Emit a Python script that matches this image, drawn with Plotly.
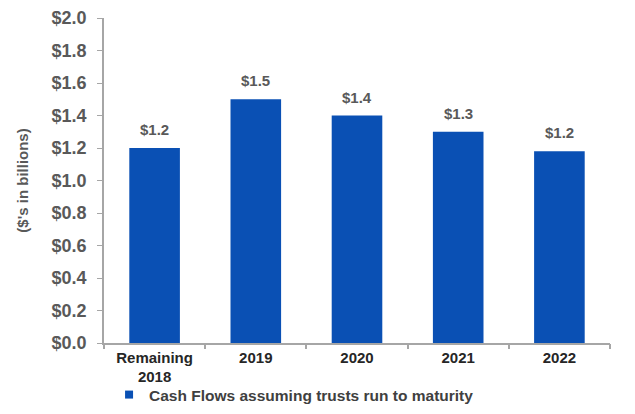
import plotly.graph_objects as go

# Expected cash flows by year ($ billions)
categories = ["Remaining<br>2018", "2019", "2020", "2021", "2022"]
cash_flows = [1.2, 1.5, 1.4, 1.3, 1.18]
y_ticks = [0.0, 0.2, 0.4, 0.6, 0.8, 1.0, 1.2, 1.4, 1.6, 1.8, 2.0]
y_tick_labels = [f"${v:.1f}" for v in y_ticks]
series_name = "Cash Flows assuming trusts run to maturity"

FONT = "Liberation Sans, Arial, sans-serif"
BLUE = "#0A50B4"
GREY_TEXT = "#595959"
AXIS_GREY = "#A6A6A6"

positions = list(range(len(categories)))
boundaries = [p - 0.5 for p in positions] + [positions[-1] + 0.5]

fig = go.Figure()
fig.add_trace(go.Bar(
    x=positions,
    y=cash_flows,
    name=series_name,
    marker=dict(color=BLUE, line=dict(width=0)),
    width=0.5,
    showlegend=False,
))
# Legend entry with a small square swatch
fig.add_trace(go.Scatter(
    x=[None], y=[None], mode="markers", name=f"<b>{series_name}</b>",
    marker=dict(symbol="square", size=8, color=BLUE),
    showlegend=True,
))

# Value labels above each bar
for i, val in enumerate(cash_flows):
    fig.add_annotation(
        x=i, y=val, text=f"<b>${val:.1f}</b>",
        showarrow=False, yanchor="bottom", yshift=8,
        font=dict(family=FONT, size=15, color=GREY_TEXT),
    )

fig.update_layout(
    width=635, height=414,
    margin=dict(l=104, r=25, t=18, b=71, autoexpand=False),
    paper_bgcolor="white", plot_bgcolor="white",
    font=dict(family=FONT),
    legend=dict(
        orientation="h", x=0.01, y=-0.16, xanchor="left", yanchor="middle",
        font=dict(family=FONT, size=15.5, color="#404040"),
        bgcolor="rgba(0,0,0,0)",
    ),
    xaxis=dict(
        range=[-0.5, 4.5],
        tickvals=positions,
        ticktext=[f"<b>{c}</b>" for c in categories],
        showline=True, linecolor=AXIS_GREY, linewidth=1.5,
        ticks="", showgrid=False, zeroline=False,
        tickfont=dict(family=FONT, size=15, color="#262626"),
    ),
    # Overlay axis carrying the tick marks between categories
    xaxis2=dict(
        overlaying="x", matches="x", side="bottom", anchor="y",
        tickvals=boundaries, showticklabels=False,
        ticks="outside", ticklen=5, tickcolor=AXIS_GREY, tickwidth=1.5,
        showline=False, showgrid=False, zeroline=False,
    ),
    yaxis=dict(
        range=[0, 2.0],
        tickvals=y_ticks, ticktext=[f"<b>{t}</b>" for t in y_tick_labels],
        showline=True, linecolor=AXIS_GREY, linewidth=1.5,
        ticks="outside", ticklen=5, tickcolor=AXIS_GREY,
        ticklabelstandoff=7,
        tickfont=dict(family=FONT, size=18, color=GREY_TEXT),
        showgrid=False, zeroline=False,
        title=dict(text="<b>($'s in billions)</b>", standoff=19,
                   font=dict(family=FONT, size=15, color=GREY_TEXT)),
    ),
)

# Invisible trace so the overlay axis is drawn
fig.add_trace(go.Scatter(
    x=[boundaries[0], boundaries[-1]], y=[None, None], xaxis="x2",
    mode="markers", hoverinfo="skip", showlegend=False,
))

fig.write_html("out.html")
